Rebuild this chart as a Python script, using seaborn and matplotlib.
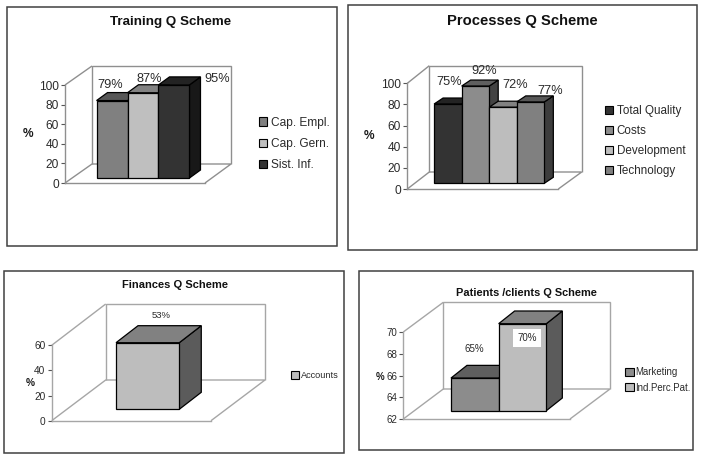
import matplotlib
matplotlib.use('Agg')
import matplotlib.pyplot as plt
import pandas as pd
import seaborn as sns
from matplotlib.patches import Polygon, Rectangle
from matplotlib.transforms import Affine2D, IdentityTransform

W, H = 701, 455

training_names = ['Cap. Empl.', 'Cap. Gern.', 'Sist. Inf.']
training_values = [79, 87, 95]
training_labels = ['79%', '87%', '95%']
training_colors = ['#808080', '#bfbfbf', '#333333']
training_ticks = [0, 20, 40, 60, 80, 100]

process_names = ['Total Quality', 'Costs', 'Development', 'Technology']
process_values = [75, 92, 72, 77]
process_labels = ['75%', '92%', '72%', '77%']
process_colors = ['#333333', '#8c8c8c', '#bdbdbd', '#808080']
process_ticks = [0, 20, 40, 60, 80, 100]

finance_names = ['Accounts']
finance_values = [53]
finance_labels = ['53%']
finance_colors = ['#bdbdbd']
finance_ticks = [0, 20, 40, 60]

patient_names = ['Marketing', 'Ind.Perc.Pat.']
patient_values = [65, 70]
patient_labels = ['65%', '70%']
patient_colors = ['#8c8c8c', '#bdbdbd']
patient_ticks = [62, 64, 66, 68, 70]

sns.set_style('white')
plt.rcParams['font.family'] = ['Liberation Sans', 'DejaVu Sans']

fig = plt.figure(figsize=(W / 100, H / 100), dpi=100)


def fx(x, y):
    return x / W, 1 - y / H


def shade(color, factor):
    rgb = matplotlib.colors.to_rgb(color)
    return tuple(c * factor for c in rgb)


def panel(names, values, labels, colors, ticks, title, frame, axis, back, bar_width,
          shift, depth, title_pos, title_size, tick_size, leg, label_pos,
          percent_pos, wall='#8f8f8f', label_z=20, label_size=None, box=None):
    x0, y0, x1, ytop = axis
    ax = fig.add_axes([x0 / W, 1 - y0 / H, (x1 - x0) / W, (y0 - ytop) / H])
    ax.patch.set_alpha(0)

    df = pd.DataFrame({'group': ['Q'] * len(names), 'series': names, 'value': values})
    sns.barplot(data=df, x='group', y='value', hue='series', palette=colors, width=bar_width,
                gap=0, saturation=1, edgecolor='black', linewidth=0.9, legend=True, ax=ax)
    bars = list(ax.patches)

    ax.set_xlim(-0.5, 0.5)
    ax.set_ylim(ticks[0], ticks[-1])
    ax.set_xticks([])
    ax.set_yticks(ticks)
    ax.set_xlabel('')
    ax.set_ylabel('')
    sns.despine(ax=ax)
    for side in ['left', 'bottom']:
        ax.spines[side].set_color(wall)
        ax.spines[side].set_linewidth(1)
    ax.tick_params(axis='y', left=True, length=3, width=0.8, color='#555555',
                   labelsize=tick_size, labelcolor='#2a2a2a', pad=1.5)

    # walls and floor
    bx, by, bright, btop = back
    wall_lines = [
        [fx(bx, by), fx(bx, btop), fx(bright, btop), fx(bright, by)],
        [fx(x0, ytop), fx(bx, btop)],
        [fx(x0, y0), fx(bx, by), fx(bright, by), fx(x1, y0)],
    ]
    for pts in wall_lines:
        ax.add_patch(Polygon(pts, closed=False, fill=False, edgecolor=wall, linewidth=1,
                             transform=fig.transFigure, clip_on=False, zorder=1))

    # shift bars onto the floor and add the depth faces
    sx, sy = shift
    dx, dy = depth
    for i, (bar, value, color) in enumerate(zip(bars, values, colors)):
        bar.set_y(ticks[0])
        bar.set_height(value - ticks[0])
        bar.set_transform(ax.transData + Affine2D().translate(sx, sy))
        bar.set_clip_on(False)
        bar.set_zorder(3 + i + 0.5)
        (l, b), (r, t) = ax.transData.transform([(bar.get_x(), ticks[0]),
                                                 (bar.get_x() + bar.get_width(), value)])
        l, r, b, t = l + sx, r + sx, b + sy, t + sy
        top_face = [(l, t), (r, t), (r + dx, t + dy), (l + dx, t + dy)]
        side_face = [(r, b), (r, t), (r + dx, t + dy), (r + dx, b + dy)]
        for pts, factor in [(side_face, 0.48), (top_face, 0.68)]:
            ax.add_patch(Polygon(pts, facecolor=shade(color, factor), edgecolor='black',
                                 linewidth=0.9, transform=IdentityTransform(),
                                 clip_on=False, zorder=3 + i))

    # data labels
    for label, (tx, ty) in zip(labels, label_pos):
        kw = {}
        if label == box:
            kw['bbox'] = dict(facecolor='white', edgecolor='none', pad=3)
        ax.text(*fx(tx, ty), label, transform=fig.transFigure, ha='center', va='center',
                fontsize=label_size or tick_size, color='#2a2a2a', zorder=label_z, **kw)

    ax.text(*fx(*percent_pos), '%', transform=fig.transFigure, ha='center', va='center',
            fontsize=tick_size, fontweight='bold', color='#1a1a1a')
    fig.text(*fx(*title_pos), title, ha='center', va='center', fontsize=title_size,
             fontweight='bold', color='#111111')

    # legend
    lx, ly, lsize, lspace, lhandle, lpad = leg
    sns.move_legend(ax, 'center left', bbox_to_anchor=fx(lx, ly), bbox_transform=fig.transFigure,
                    title=None, frameon=False, fontsize=lsize, borderpad=0, borderaxespad=0,
                    labelspacing=lspace, handlelength=lhandle, handleheight=lhandle,
                    handletextpad=lpad)
    for text in ax.get_legend().get_texts():
        text.set_color('#2a2a2a')
    for handle in ax.get_legend().get_patches():
        handle.set_edgecolor('black')
        handle.set_linewidth(0.8)

    fx0, fy0, fx1, fy1 = frame
    fig.add_artist(Rectangle(fx(fx0, fy1), (fx1 - fx0) / W, (fy1 - fy0) / H, fill=False,
                             edgecolor='#404040', linewidth=1.1, transform=fig.transFigure))


panel(training_names, training_values, training_labels, training_colors, training_ticks,
      'Training Q Scheme', frame=(7, 7, 337, 246), axis=(65, 183, 205, 85),
      back=(92, 164, 231, 66), bar_width=0.664, shift=(8, 5), depth=(11, 8),
      title_pos=(171, 22), title_size=9.6, tick_size=8.6,
      leg=(259, 144, 8.6, 0.77, 0.7, 0.3),
      label_pos=[(110, 85), (149, 79), (217, 79)], percent_pos=(28, 134), label_z=2.5,
      label_size=9.2)

panel(process_names, process_values, process_labels, process_colors, process_ticks,
      'Processes Q Scheme', frame=(348, 5, 697, 250), axis=(407.3, 189, 558.3, 83.3),
      back=(429.3, 172, 581.7, 65.7), bar_width=0.73, shift=(6.4, 5.7), depth=(9, 6),
      title_pos=(522, 21), title_size=10.6, tick_size=8.6,
      leg=(605, 141, 8.4, 0.68, 0.7, 0.3),
      label_pos=[(449, 82), (484, 71), (515, 85), (550, 91)], percent_pos=(369, 136),
      label_size=9.2)

panel(finance_names, finance_values, finance_labels, finance_colors, finance_ticks,
      'Finances Q Scheme', frame=(4, 271, 344, 453), axis=(51.7, 420.7, 211, 345.3),
      back=(105.7, 380, 265, 304), bar_width=0.397, shift=(16.3, 11.4), depth=(22, 17),
      title_pos=(175, 285), title_size=8, tick_size=7.3,
      leg=(291, 375.7, 6.6, 0.6, 0.9, 0.18),
      label_pos=[(161, 316)], percent_pos=(30, 383), wall='#a6a6a6', label_size=6.8)

panel(patient_names, patient_values, patient_labels, patient_colors, patient_ticks,
      'Patients /clients Q Scheme', frame=(359, 271, 693, 450), axis=(403.3, 419, 570, 332),
      back=(443.3, 389, 610, 302.3), bar_width=0.572, shift=(12, 8.3), depth=(16, 12.7),
      title_pos=(526, 293), title_size=7.9, tick_size=7,
      leg=(625, 380, 6.9, 0.55, 0.9, 0.18),
      label_pos=[(474, 349), (527, 338)], percent_pos=(380, 377), wall='#a6a6a6', box='70%',
      label_size=7)

fig.savefig('out.png', dpi=100)
